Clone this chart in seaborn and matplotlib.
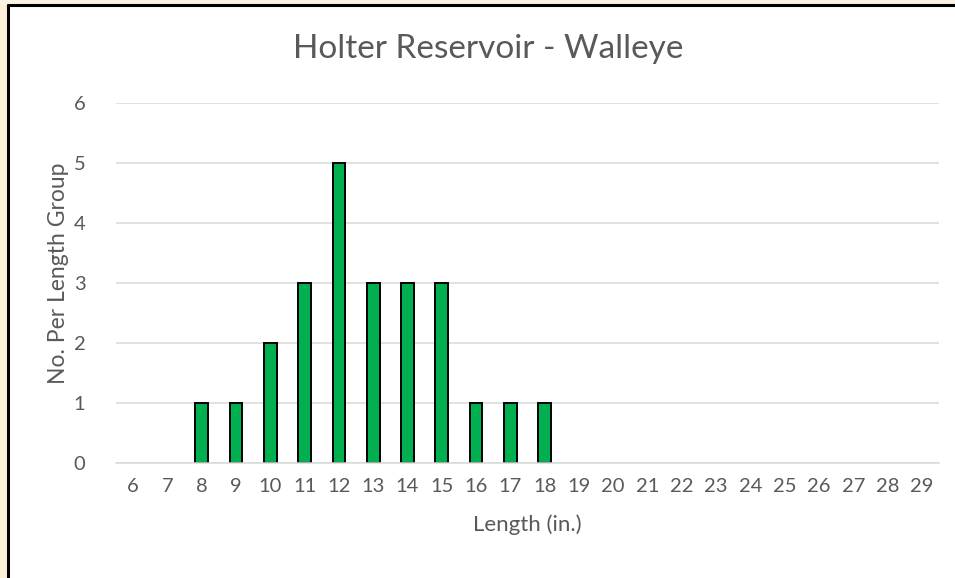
import pandas as pd
import matplotlib.pyplot as plt
import seaborn as sns
from matplotlib.patches import Rectangle
from matplotlib.lines import Line2D

# Length groups (in.) and counts
lengths = list(range(6, 30))
caught_lengths = [8, 9, 10, 11, 12, 13, 14, 15, 16, 17, 18]
counts = [1, 1, 2, 3, 5, 3, 3, 3, 1, 1, 1]

df = pd.DataFrame({'Length': [str(v) for v in caught_lengths], 'Count': counts})
order = [str(v) for v in lengths]

sns.set_style('white')
plt.rcParams['font.family'] = ['Lato', 'DejaVu Sans']

fig = plt.figure(figsize=(9.55, 5.78), dpi=100)
fig.patch.set_facecolor('white')

# cream strip outside the chart frame + black frame lines (top and left)
fig.patches.append(Rectangle((0, 0), 7.5 / 955, 1, transform=fig.transFigure,
                             facecolor='#fdf0d8', edgecolor='none', zorder=0))
fig.patches.append(Rectangle((0, 1 - 4.5 / 578), 1, 4.5 / 578, transform=fig.transFigure,
                             facecolor='#fbf3e4', edgecolor='none', zorder=0))
fig.lines.append(Line2D([7.5 / 955, 7.5 / 955], [0, 1 - 4.5 / 578], transform=fig.transFigure,
                        color='black', lw=2.2))
fig.lines.append(Line2D([7.5 / 955, 1], [1 - 4.5 / 578, 1 - 4.5 / 578], transform=fig.transFigure,
                        color='black', lw=2.2))

ax = fig.add_axes([116 / 955, 1 - 463 / 578, 823 / 955, 360 / 578])
sns.barplot(data=df, x='Length', y='Count', order=order, color='#00b050',
            saturation=1, width=0.37, edgecolor='black', linewidth=1.4, ax=ax, zorder=3)

ax.set_ylim(0, 6)
ax.set_yticks(range(0, 7))
ax.grid(axis='y', color='#d9d9d9', linewidth=1.1, zorder=0)
ax.set_axisbelow(True)
for s in ['top', 'right', 'left']:
    ax.spines[s].set_visible(False)
ax.spines['bottom'].set_color('#d9d9d9')
ax.spines['bottom'].set_linewidth(1.1)
ax.spines['bottom'].set_zorder(4)
ax.tick_params(axis='both', length=0, labelsize=14.5, colors='#595959')
ax.tick_params(axis='x', pad=11)
ax.tick_params(axis='y', pad=22)

ax.set_xlabel('Length (in.)', fontsize=16, color='#595959', va='center')
ax.set_ylabel('No. Per Length Group', fontsize=16.5, color='#595959', va='center')
ax.xaxis.set_label_coords((527 - 116) / 823, (463 - 525) / 360)
ax.yaxis.set_label_coords((59 - 116) / 823, (463 - 273) / 360)
fig.text(488 / 955, 1 - 49 / 578, 'Holter Reservoir - Walleye', fontsize=24,
         color='#595959', ha='center', va='center')

fig.savefig('out.png', dpi=100)
